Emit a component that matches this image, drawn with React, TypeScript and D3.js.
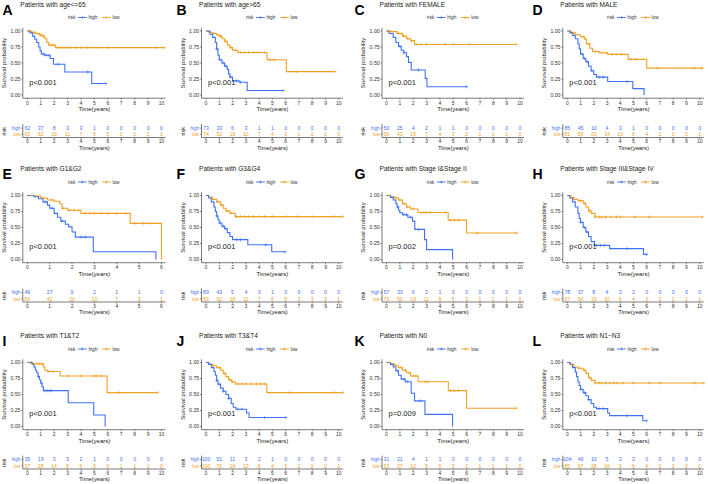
import * as d3 from "d3";

// ---- panel text ----
const letters = ["A", "B", "C", "D", "E", "F", "G", "H", "I", "J", "K", "L"];
const titles = [
  "Patients with age<=65",
  "Patients with age>65",
  "Patients with FEMALE",
  "Patients with MALE",
  "Patients with G1&G2",
  "Patients with G3&G4",
  "Patients with Stage I&Stage II",
  "Patients with Stage III&Stage IV",
  "Patients with T1&T2",
  "Patients with T3&T4",
  "Patients with N0",
  "Patients with N1\u2212N3",
];
const pvals = ["p<0.001", "p<0.001", "p<0.001", "p<0.001", "p<0.001", "p<0.001", "p=0.002", "p<0.001", "p<0.001", "p<0.001", "p=0.009", "p<0.001"];
const xMax = [10, 10, 10, 10, 6, 10, 10, 10, 10, 10, 10, 10];
const yTicks = [0, 0.25, 0.5, 0.75, 1];

// ---- KM curves: [time, survival after drop] ----
const highSteps: number[][][] = [
  [[0.2, 0.97], [0.4, 0.92], [0.55, 0.87], [0.7, 0.82], [0.85, 0.75], [0.95, 0.69], [1.05, 0.64], [1.3, 0.62], [1.7, 0.57], [1.95, 0.48], [2.8, 0.36], [4.8, 0.18]],
  [[0.3, 0.95], [0.5, 0.9], [0.7, 0.82], [0.8, 0.72], [0.9, 0.62], [1.0, 0.55], [1.2, 0.5], [1.4, 0.45], [1.6, 0.4], [1.7, 0.33], [1.8, 0.28], [2.0, 0.22], [2.5, 0.2], [3.1, 0.07]],
  [[0.2, 0.96], [0.5, 0.9], [0.7, 0.82], [0.9, 0.76], [1.1, 0.7], [1.3, 0.66], [1.5, 0.6], [1.65, 0.51], [1.85, 0.39], [2.9, 0.26], [3.03, 0.13]],
  [[0.2, 0.97], [0.4, 0.93], [0.6, 0.88], [0.8, 0.8], [0.9, 0.72], [1.0, 0.64], [1.2, 0.57], [1.4, 0.52], [1.6, 0.45], [1.8, 0.38], [2.0, 0.32], [2.2, 0.28], [3.05, 0.21], [4.95, 0.1], [5.8, 0]],
  [[0.3, 0.98], [0.5, 0.95], [0.7, 0.9], [0.9, 0.85], [1.0, 0.8], [1.2, 0.72], [1.35, 0.66], [1.5, 0.6], [1.7, 0.55], [1.85, 0.51], [2.0, 0.43], [2.15, 0.35], [2.95, 0.12], [5.75, 0]],
  [[0.2, 0.96], [0.4, 0.9], [0.6, 0.82], [0.7, 0.75], [0.8, 0.68], [0.9, 0.62], [1.0, 0.57], [1.2, 0.52], [1.4, 0.48], [1.6, 0.42], [1.8, 0.36], [2.0, 0.31], [3.15, 0.23], [4.95, 0.12]],
  [[0.3, 0.97], [0.5, 0.93], [0.7, 0.87], [0.8, 0.82], [0.9, 0.77], [1.0, 0.73], [1.2, 0.7], [1.6, 0.66], [1.95, 0.6], [2.12, 0.47], [2.85, 0.31], [3.0, 0.155], [4.95, 0]],
  [[0.2, 0.96], [0.4, 0.9], [0.6, 0.82], [0.8, 0.72], [0.9, 0.64], [1.0, 0.58], [1.2, 0.5], [1.4, 0.43], [1.6, 0.36], [1.8, 0.28], [2.05, 0.22], [3.2, 0.17], [5.75, 0.08]],
  [[0.4, 0.97], [0.5, 0.93], [0.6, 0.88], [0.7, 0.84], [0.8, 0.78], [0.9, 0.73], [1.0, 0.68], [1.1, 0.62], [1.2, 0.56], [3.05, 0.37], [4.95, 0.18], [5.8, 0]],
  [[0.2, 0.97], [0.4, 0.92], [0.6, 0.86], [0.7, 0.8], [0.8, 0.72], [0.9, 0.66], [1.1, 0.6], [1.3, 0.55], [1.5, 0.5], [1.7, 0.44], [1.9, 0.36], [2.05, 0.3], [2.25, 0.27], [3.05, 0.21], [3.25, 0.14]],
  [[0.3, 0.97], [0.5, 0.93], [0.7, 0.87], [0.9, 0.8], [1.1, 0.74], [1.4, 0.7], [1.85, 0.52], [2.1, 0.4], [2.88, 0.19], [4.95, 0]],
  [[0.2, 0.97], [0.4, 0.92], [0.6, 0.85], [0.7, 0.78], [0.8, 0.7], [0.9, 0.64], [1.0, 0.58], [1.2, 0.53], [1.4, 0.48], [1.6, 0.42], [1.8, 0.36], [2.0, 0.3], [2.2, 0.28], [3.05, 0.21], [3.2, 0.17], [5.7, 0.09]],
];
const highEnd = [5.85, 5.8, 6.0, 5.8, 5.75, 5.95, 4.95, 6.0, 5.8, 6.0, 4.95, 6.0];
const highCensor: number[][] = [
  [1.2, 1.4, 1.6, 2.3, 4.5, 5.85],
  [0.8, 1.05, 1.3, 1.5, 1.85, 2.3, 2.6, 5.8],
  [1.0, 1.3, 2.4, 6.0],
  [1.1, 1.3, 1.5, 1.85, 2.4, 2.7, 4.5],
  [0.8, 1.1, 1.55, 2.4, 2.6],
  [0.8, 1.05, 1.3, 1.5, 2.3, 2.6, 4.5, 5.95],
  [0.85, 1.3, 1.5, 1.8, 2.4],
  [1.0, 1.3, 1.5, 2.2, 2.5, 2.8, 4.5, 6.0],
  [0.3, 0.85, 1.05, 1.3, 1.5, 1.65, 1.8],
  [0.8, 1.0, 1.3, 1.7, 2.4, 2.7, 4.4, 6.0],
  [0.8, 1.3, 1.55, 2.5],
  [1.0, 1.3, 1.6, 2.4, 2.7, 4.5, 6.0],
];

const lowSteps: number[][][] = [
  [[0.3, 0.98], [0.6, 0.96], [0.9, 0.94], [1.1, 0.92], [1.3, 0.88], [1.45, 0.82], [1.6, 0.78], [2.1, 0.74]],
  [[0.2, 0.98], [0.5, 0.96], [0.8, 0.94], [1.0, 0.92], [1.2, 0.88], [1.4, 0.84], [1.6, 0.78], [1.8, 0.74], [2.0, 0.7], [2.4, 0.665], [4.6, 0.55], [6.05, 0.365]],
  [[0.3, 0.99], [0.8, 0.96], [1.2, 0.92], [1.5, 0.88], [1.8, 0.85], [2.1, 0.79]],
  [[0.3, 0.97], [0.6, 0.94], [1.0, 0.91], [1.3, 0.87], [1.45, 0.8], [1.7, 0.73], [1.9, 0.68], [2.4, 0.66], [3.05, 0.635], [4.6, 0.557], [6.0, 0.42]],
  [[0.3, 0.99], [0.6, 0.96], [0.9, 0.93], [1.2, 0.91], [1.45, 0.87], [1.55, 0.8], [1.8, 0.77], [2.4, 0.72], [4.6, 0.565], [6.0, 0]],
  [[0.2, 0.97], [0.5, 0.94], [0.8, 0.9], [1.1, 0.85], [1.3, 0.8], [1.5, 0.76], [1.8, 0.72], [2.2, 0.67]],
  [[0.3, 0.98], [0.6, 0.96], [0.9, 0.93], [1.2, 0.87], [1.5, 0.82], [1.8, 0.79], [2.35, 0.735], [4.62, 0.615], [6.0, 0.415]],
  [[0.2, 0.97], [0.5, 0.94], [0.8, 0.92], [1.2, 0.88], [1.4, 0.82], [1.6, 0.76], [1.8, 0.72], [2.1, 0.665]],
  [[0.3, 0.98], [1.2, 0.93], [1.3, 0.88], [1.5, 0.86], [2.45, 0.79], [5.95, 0.53]],
  [[0.2, 0.97], [0.5, 0.95], [0.8, 0.92], [1.1, 0.88], [1.3, 0.83], [1.5, 0.78], [1.7, 0.73], [1.9, 0.7], [2.2, 0.665], [4.58, 0.53]],
  [[0.3, 0.98], [0.6, 0.95], [0.9, 0.92], [1.2, 0.88], [1.5, 0.84], [1.8, 0.79], [2.37, 0.7], [4.63, 0.56], [6.0, 0.285]],
  [[0.2, 0.97], [0.5, 0.93], [0.8, 0.91], [1.2, 0.88], [1.4, 0.83], [1.6, 0.76], [1.8, 0.72], [2.1, 0.68]],
];
const lowEnd = [10.2, 9.7, 9.7, 10.2, 6.0, 10.3, 9.75, 10.2, 9.7, 10.3, 9.7, 10.3];
const lowCensor: number[][] = [
  [0.1, 0.5, 0.8, 1.0, 1.2, 1.7, 1.9, 2.3, 2.6, 2.9, 3.2, 3.6, 4.0, 4.4, 4.9, 5.3, 6.0, 9.6, 10.2],
  [0.6, 1.1, 1.5, 1.9, 2.2, 2.6, 2.9, 3.2, 3.6, 3.9, 4.4, 4.8, 5.1, 6.8, 9.7],
  [0.1, 0.4, 0.9, 1.1, 1.3, 1.6, 1.9, 2.3, 2.6, 3.0, 4.4, 5.0, 6.2, 9.7],
  [0.5, 1.2, 1.6, 2.1, 2.6, 2.9, 3.4, 3.7, 4.1, 4.8, 5.2, 6.8, 9.6, 10.2],
  [0.2, 0.7, 1.1, 1.6, 1.9, 2.1, 2.3, 2.6, 2.8, 3.0, 3.3, 3.6, 4.0, 4.4, 4.8, 5.2, 5.5],
  [0.4, 0.9, 1.2, 1.6, 1.9, 2.3, 2.6, 2.9, 3.2, 3.6, 4.0, 4.4, 5.0, 6.0, 6.9, 8.0, 9.6, 10.3],
  [0.2, 0.7, 1.0, 1.3, 1.6, 2.0, 2.6, 2.8, 3.0, 3.3, 4.4, 4.8, 5.1, 5.4, 6.8, 9.75],
  [0.3, 1.0, 1.3, 1.7, 2.1, 2.4, 2.6, 2.9, 3.3, 3.7, 4.0, 5.1, 6.2, 10.2],
  [0.1, 0.4, 0.7, 0.9, 1.1, 1.6, 1.9, 3.0, 4.0, 5.0, 5.2, 5.5, 6.8, 9.7],
  [0.5, 1.0, 1.4, 1.8, 2.0, 2.4, 2.7, 3.0, 3.4, 3.8, 4.1, 4.4, 6.3, 9.6, 10.3],
  [0.2, 0.7, 1.1, 1.4, 1.7, 2.0, 2.2, 2.9, 3.1, 4.8, 5.1, 5.4, 9.7],
  [0.3, 0.9, 1.3, 1.7, 2.1, 2.4, 2.6, 2.9, 3.2, 3.5, 3.8, 4.2, 5.0, 6.2, 7.0, 9.6, 10.3],
];

// ---- number at risk ----
const riskHigh: number[][] = [
  [62, 37, 8, 3, 3, 1, 0, 0, 0, 0, 0],
  [73, 33, 6, 3, 1, 1, 0, 0, 0, 0, 0],
  [50, 25, 4, 2, 1, 1, 0, 0, 0, 0, 0],
  [85, 45, 10, 4, 3, 1, 0, 0, 0, 0, 0],
  [46, 27, 9, 2, 1, 1, 0],
  [89, 43, 5, 4, 3, 1, 0, 0, 0, 0, 0],
  [57, 33, 6, 2, 1, 0, 0, 0, 0, 0, 0],
  [78, 37, 8, 4, 3, 2, 0, 0, 0, 0, 0],
  [35, 19, 3, 3, 2, 1, 0, 0, 0, 0, 0],
  [100, 51, 11, 3, 2, 1, 0, 0, 0, 0, 0],
  [31, 21, 4, 1, 1, 0, 0, 0, 0, 0, 0],
  [104, 49, 10, 5, 3, 2, 0, 0, 0, 0, 0],
];
const riskLow: number[][] = [
  [63, 52, 19, 11, 7, 6, 5, 2, 2, 2, 1],
  [74, 52, 19, 10, 7, 4, 3, 1, 1, 1, 0],
  [56, 43, 15, 7, 4, 3, 2, 1, 1, 1, 0],
  [81, 59, 23, 14, 10, 6, 4, 2, 2, 2, 1],
  [54, 42, 20, 10, 7, 3, 1],
  [83, 62, 18, 11, 7, 6, 5, 3, 3, 3, 1],
  [70, 50, 19, 11, 8, 5, 3, 1, 1, 1, 0],
  [67, 54, 19, 10, 6, 4, 3, 2, 2, 2, 1],
  [37, 28, 14, 8, 6, 5, 3, 1, 1, 1, 0],
  [100, 76, 24, 13, 8, 4, 3, 2, 2, 2, 1],
  [52, 37, 12, 5, 5, 3, 2, 1, 1, 1, 0],
  [85, 67, 28, 16, 9, 6, 4, 2, 2, 2, 1],
];

const BLUE = "#3F72F3";
const ORANGE = "#EFA124";
const FONT = "'Liberation Sans', Arial, sans-serif";

// layout
const colX0 = [27.3, 206, 386.5, 567.3];
const colX1 = [161.5, 338.8, 520, 699.7];
const letterX = [2.5, 176.5, 354.5, 532.5];
const rowTop = [0, 164.5, 331.5];

function survAt(steps: number[][], t: number) {
  let s = 1;
  for (const [st, sv] of steps) if (st <= t) s = sv;
  return s;
}

function Censor({ x, y, color }: { x: number; y: number; color: string }) {
  const r = 1.6;
  return (
    <g stroke={color} strokeWidth={0.6}>
      <line x1={x - r} x2={x + r} y1={y} y2={y} />
      <line x1={x} x2={x} y1={y - r} y2={y + r} />
    </g>
  );
}

function Panel({ i }: { i: number }) {
  const col = i % 4;
  const top = rowTop[Math.floor(i / 4)];
  const x0 = colX0[col];
  const x1 = colX1[col];
  const xm = xMax[i];
  const x = d3.scaleLinear().domain([0, xm]).range([x0, x1]);
  const y = d3.scaleLinear().domain([0, 1]).range([top + 95, top + 31]);
  const xTicks = d3.range(0, xm + 1);
  const axL = x0 - 4.5;
  const axR = x1 + 4;
  const line = d3
    .line<number[]>()
    .x((d) => x(d[0]))
    .y((d) => y(d[1]))
    .curve(d3.curveStepAfter);

  const curve = (steps: number[][], end: number) => {
    const pts = [[0, 1], ...steps];
    pts.push([end, pts[pts.length - 1][1]]);
    return line(pts) ?? undefined;
  };

  const cx = (x0 + x1) / 2;
  const legY = top + 17.5;
  const riskHY = top + 128.1;
  const riskLY = top + 134.4;
  const riskAx = top + 137.5;

  return (
    <g fontFamily={FONT}>
      <text x={letterX[col]} y={top + 14.5} fontSize={14} fontWeight="bold">
        {letters[i]}
      </text>
      <text x={x0 - 7} y={top + 6.5} fontSize={6.6} fill="#222">
        {titles[i]}
      </text>

      {/* legend */}
      <text x={cx - 26.5} y={legY + 1.7} fontSize={4.8} fill="#333">
        risk
      </text>
      <line x1={cx - 16.5} x2={cx - 7.5} y1={legY} y2={legY} stroke={BLUE} strokeWidth={0.9} />
      <Censor x={cx - 12} y={legY} color={BLUE} />
      <text x={cx - 6} y={legY + 1.7} fontSize={4.8} fill="#333">
        high
      </text>
      <line x1={cx + 7.5} x2={cx + 16.5} y1={legY} y2={legY} stroke={ORANGE} strokeWidth={0.9} />
      <Censor x={cx + 12} y={legY} color={ORANGE} />
      <text x={cx + 18} y={legY + 1.7} fontSize={4.8} fill="#333">
        low
      </text>

      {/* axes */}
      <line x1={axL} x2={axL} y1={y(1.05)} y2={y(-0.05)} stroke="#222" strokeWidth={0.6} />
      <line x1={axL} x2={axR} y1={y(-0.05)} y2={y(-0.05)} stroke="#222" strokeWidth={0.6} />
      {yTicks.map((t) => (
        <g key={t}>
          <line x1={axL - 1.5} x2={axL} y1={y(t)} y2={y(t)} stroke="#222" strokeWidth={0.5} />
          <text x={axL - 2.3} y={y(t) + 1.8} fontSize={5.2} textAnchor="end" fill="#333">
            {d3.format(".2f")(t)}
          </text>
        </g>
      ))}
      {xTicks.map((t) => (
        <g key={t}>
          <line x1={x(t)} x2={x(t)} y1={y(-0.05)} y2={y(-0.05) + 1.5} stroke="#222" strokeWidth={0.5} />
          <text x={x(t)} y={top + 104.9} fontSize={5} textAnchor="middle" fill="#333">
            {t}
          </text>
        </g>
      ))}
      <text x={cx} y={top + 111.2} fontSize={6} textAnchor="middle" fill="#222">
        Time(years)
      </text>
      <text
        transform={`translate(${x0 - 21.5},${y(0.5)}) rotate(-90)`}
        fontSize={6}
        textAnchor="middle"
        fill="#222"
      >
        Survival probability
      </text>

      {/* curves */}
      <path d={curve(lowSteps[i], lowEnd[i])} fill="none" stroke={ORANGE} strokeWidth={1.1} />
      <path d={curve(highSteps[i], highEnd[i])} fill="none" stroke={BLUE} strokeWidth={1.1} />
      {lowCensor[i].map((c, k) => (
        <Censor key={"l" + k} x={x(c)} y={y(survAt(lowSteps[i], c))} color={ORANGE} />
      ))}
      {highCensor[i].map((c, k) => (
        <Censor key={"h" + k} x={x(c)} y={y(survAt(highSteps[i], c))} color={BLUE} />
      ))}
      <text x={x0 + 2} y={y(0.2) + 2.6} fontSize={7.5} fill="#222">
        {pvals[i]}
      </text>

      {/* risk table */}
      <line x1={axL} x2={axL} y1={riskHY - 4} y2={riskAx} stroke="#222" strokeWidth={0.6} />
      <line x1={axL} x2={axR} y1={riskAx} y2={riskAx} stroke="#222" strokeWidth={0.6} />
      <line x1={axL - 1.5} x2={axL} y1={riskHY} y2={riskHY} stroke="#222" strokeWidth={0.5} />
      <line x1={axL - 1.5} x2={axL} y1={riskLY} y2={riskLY} stroke="#222" strokeWidth={0.5} />
      <text x={axL - 2.5} y={riskHY + 1.6} fontSize={4.5} textAnchor="end" fill={BLUE}>
        high
      </text>
      <text x={axL - 2.5} y={riskLY + 1.6} fontSize={4.5} textAnchor="end" fill={ORANGE}>
        low
      </text>
      <text
        transform={`translate(${x0 - 21.5},${(riskHY + riskLY) / 2}) rotate(-90)`}
        fontSize={5.5}
        textAnchor="middle"
        fill="#222"
      >
        risk
      </text>
      {riskHigh[i].map((v, k) => (
        <text key={"rh" + k} x={x(k)} y={riskHY + 1.8} fontSize={5.2} textAnchor="middle" fill={BLUE}>
          {v}
        </text>
      ))}
      {riskLow[i].map((v, k) => (
        <text key={"rl" + k} x={x(k)} y={riskLY + 1.8} fontSize={5.2} textAnchor="middle" fill={ORANGE}>
          {v}
        </text>
      ))}
      {xTicks.map((t) => (
        <g key={"rt" + t}>
          <line x1={x(t)} x2={x(t)} y1={riskAx} y2={riskAx + 1.5} stroke="#222" strokeWidth={0.5} />
          <text x={x(t)} y={top + 143.4} fontSize={5} textAnchor="middle" fill="#333">
            {t}
          </text>
        </g>
      ))}
      <text x={cx} y={top + 149.8} fontSize={5.8} textAnchor="middle" fill="#222">
        Time(years)
      </text>
    </g>
  );
}

export default function App() {
  return (
    <svg
      width={708}
      height={484}
      style={{ position: "absolute", left: 0, top: 0, background: "#fff" }}
    >
      <rect width={708} height={484} fill="#fff" />
      {letters.map((_, i) => (
        <Panel key={i} i={i} />
      ))}
    </svg>
  );
}
